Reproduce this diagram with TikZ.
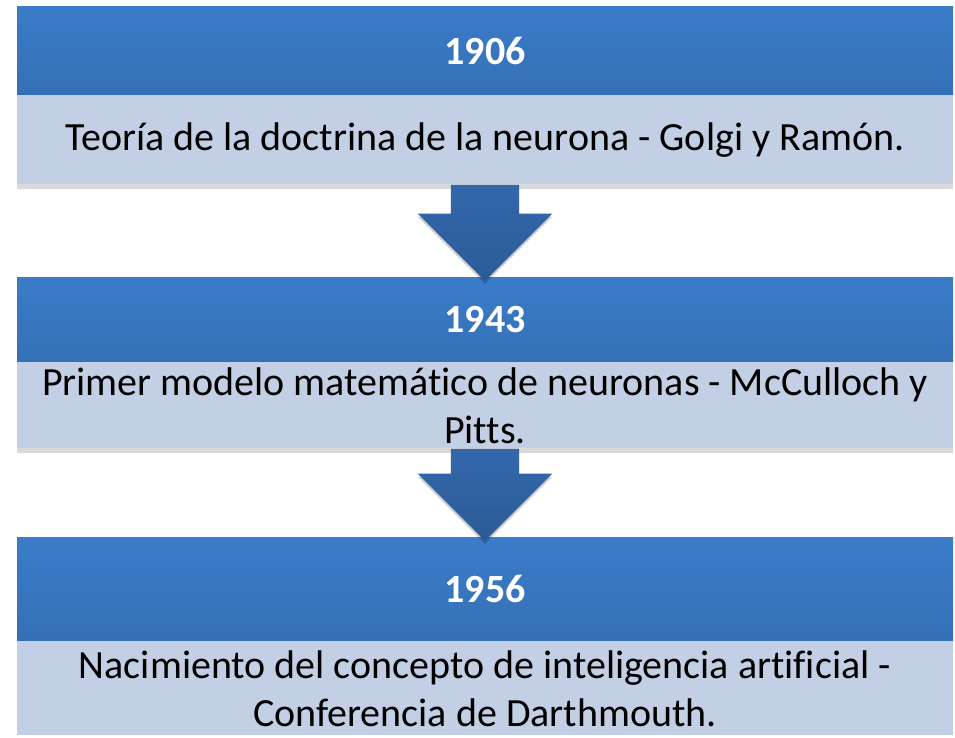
\documentclass[tikz,border=0pt]{standalone}
\usepackage{fontspec}
\setmainfont{Carlito}[Ligatures=NoCommon]
\usetikzlibrary{shapes, shapes.arrows, shadows, positioning}

\definecolor{headblue}{HTML}{3A7CC9}
\definecolor{headdark}{HTML}{3570B6}
\definecolor{bodyblue}{HTML}{C3CFE4}
\definecolor{arrowtop}{HTML}{3368AC}
\definecolor{arrowbot}{HTML}{2C5B96}

\begin{document}
\begin{tikzpicture}[
  x=1pt, y=-1pt,
  yearbox/.style={rectangle, minimum width=936pt, inner sep=0pt,
    top color=headblue, bottom color=headdark, text=white,
    font=\fontsize{40}{48}\selectfont\bfseries},
  textbox/.style={rectangle, minimum width=936pt, inner sep=0pt,
    fill=bodyblue, text=black, align=center,
    font=\fontsize{40}{48}\selectfont},
  shadowed/.style={drop shadow={shadow xshift=0pt, shadow yshift=-5pt,
    opacity=.15, fill=black}},
  downarrow/.style={single arrow, rotate=-90, anchor=tail,
    inner xsep=0pt, inner ysep=34pt,
    single arrow head extend=33pt, single arrow head indent=0pt,
    top color=arrowtop, bottom color=arrowbot,
    drop shadow={shadow xshift=0pt, shadow yshift=-3pt, opacity=.2, fill=black}}]

  \useasboundingbox (0,0) rectangle (955,737);

  % 1906
  \node[yearbox, shadowed, minimum height=89pt] (y1906) at (485,50.5) {1906};
  \node[textbox, shadowed, minimum height=89pt, below=0pt of y1906] (t1906)
    {Teoría de la doctrina de la neurona - Golgi y Ramón.};

  % 1943
  \node[yearbox, shadowed, minimum height=85pt] (y1943) at (485,319.5) {1943};
  \node[textbox, shadowed, minimum height=86pt, below=0pt of y1943] (t1943)
    {Primer modelo matemático de neuronas - McCulloch y\\Pitts.};

  % 1956
  \node[yearbox, shadowed, minimum height=104pt] (y1956) at (485,589) {1956};
  \node[textbox, minimum height=94pt, below=0pt of y1956] (t1956)
    {Nacimiento del concepto de inteligencia artificial -\\Conferencia de Darthmouth.};

  % arrows
  \node[downarrow, minimum height=96pt] (a1) at (t1906.south) {};
  \node[downarrow, minimum height=92pt] (a2) at (t1943.south) {};
\end{tikzpicture}
\end{document}
